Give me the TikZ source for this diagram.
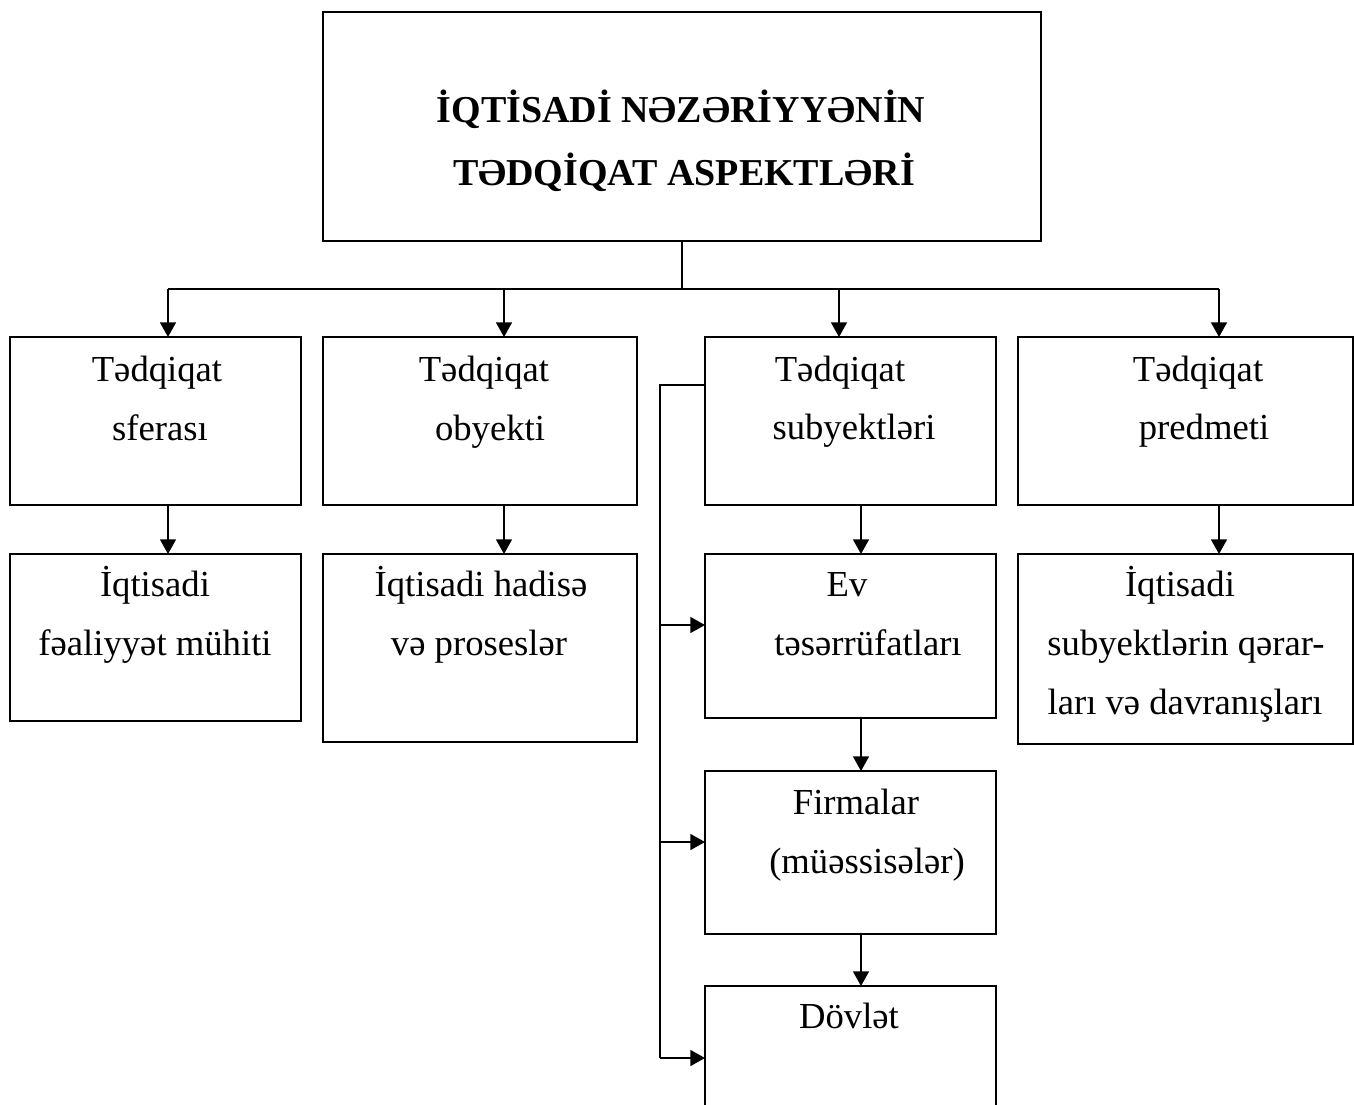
\documentclass[tikz,border=0pt]{standalone}
\usepackage{fontspec}
\setmainfont{Liberation Serif}
\usetikzlibrary{arrows.meta,fit}
\begin{document}
\begin{tikzpicture}[x=0.75pt,y=-0.75pt,
  box/.style={draw,line width=1.5pt,inner sep=0pt,outer sep=0pt},
  conn/.style={line width=1.2pt},
  arr/.style={conn,-{Triangle[length=11pt,width=12pt]}},
  txt/.style={anchor=base,inner sep=0pt,font=\fontsize{27.5pt}{33pt}\selectfont},
  ttl/.style={anchor=base,inner sep=0pt,font=\fontsize{28.5pt}{34pt}\selectfont\bfseries}]
\useasboundingbox (0,0) rectangle (1354,1104);
% boxes
\node[box,fit={(323,12)(1041,241)}] (top) {};
\node[box,fit={(10,337)(301,505)}] (b1) {};
\node[box,fit={(323,337)(637,505)}] (b2) {};
\node[box,fit={(705,337)(996,505)}] (b3) {};
\node[box,fit={(1018,337)(1353,505)}] (b4) {};
\node[box,fit={(10,554)(301,721)}] (c1) {};
\node[box,fit={(323,554)(637,742)}] (c2) {};
\node[box,fit={(705,554)(996,718)}] (ev) {};
\node[box,fit={(705,771)(996,934)}] (fi) {};
\node[box,fit={(705,986)(996,1135)}] (dv) {};
\node[box,fit={(1018,554)(1353,744)}] (c4) {};
% texts
\node[ttl] (tt1) at (681,122) {İQTİSADİ NƏZƏRİYYƏNİN};
\node[ttl] (tt2) at (684,185) {TƏDQİQAT ASPEKTLƏRİ};
\node[txt] (b1a) at (157,381) {Tədqiqat};
\node[txt] (b1b) at (160,440) {sferası};
\node[txt] (b2a) at (484,381) {Tədqiqat};
\node[txt] (b2b) at (490,440) {obyekti};
\node[txt] (b3a) at (840,381) {Tədqiqat};
\node[txt] (b3b) at (854,439) {subyektləri};
\node[txt] (b4a) at (1198,381) {Tədqiqat};
\node[txt] (b4b) at (1204,439) {predmeti};
\node[txt] (c1a) at (155,596) {İqtisadi};
\node[txt] (c1b) at (155,655) {fəaliyyət mühiti};
\node[txt] (c2a) at (481,596) {İqtisadi hadisə};
\node[txt] (c2b) at (479,655) {və proseslər};
\node[txt] (eva) at (847,596) {Ev};
\node[txt] (evb) at (868,655) {təsərrüfatları};
\node[txt] (fia) at (856,814) {Firmalar};
\node[txt] (fib) at (867,873) {(müəssisələr)};
\node[txt] (dva) at (849,1028) {Dövlət};
\node[txt] (c4a) at (1180,596) {İqtisadi};
\node[txt] (c4b) at (1186,655) {subyektlərin qərar-};
\node[txt] (c4c) at (1185,714) {ları və davranışları};
% connectors from title
\coordinate (j) at (682,289);
\coordinate (h1) at (168,289);
\coordinate (h2) at (504,289);
\coordinate (h3) at (839,289);
\coordinate (h4) at (1219,289);
\draw[conn] (top.south) -- (j);
\draw[conn] (h1) -- (h4);
\draw[arr] (h1) -- (h1 |- b1.north);
\draw[arr] (h2) -- (h2 |- b2.north);
\draw[arr] (h3) -- (h3 |- b3.north);
\draw[arr] (h4) -- (h4 |- b4.north);
% vertical arrows
\coordinate (v1) at (168,0);
\coordinate (v2) at (504,0);
\coordinate (v3) at (861,0);
\coordinate (v4) at (1219,0);
\draw[arr] (v1 |- b1.south) -- (v1 |- c1.north);
\draw[arr] (v2 |- b2.south) -- (v2 |- c2.north);
\draw[arr] (v3 |- b3.south) -- (v3 |- ev.north);
\draw[arr] (v3 |- ev.south) -- (v3 |- fi.north);
\draw[arr] (v3 |- fi.south) -- (v3 |- dv.north);
\draw[arr] (v4 |- b4.south) -- (v4 |- c4.north);
% left bracket
\coordinate (s) at (660,385);
\coordinate (l1) at (660,625);
\coordinate (l2) at (660,842);
\coordinate (l3) at (660,1058);
\draw[conn] (b3.west |- s) -- (s) -- (l3);
\draw[arr] (l1) -- (ev.west |- l1);
\draw[arr] (l2) -- (fi.west |- l2);
\draw[arr] (l3) -- (dv.west |- l3);
\end{tikzpicture}
\end{document}
